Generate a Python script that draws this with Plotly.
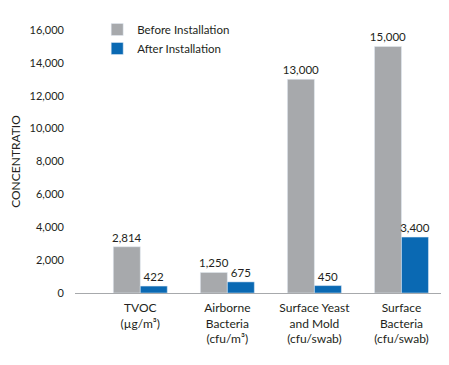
import plotly.graph_objects as go

categories = ["TVOC<br>(µg/m³)", "Airborne<br>Bacteria<br>(cfu/m³)",
              "Surface Yeast<br>and Mold<br>(cfu/swab)", "Surface<br>Bacteria<br>(cfu/swab)"]
before = [2814, 1250, 13000, 15000]
after = [422, 675, 450, 3400]
before_labels = ["2,814", "1,250", "13,000", "15,000"]
after_labels = ["422", "675", "450", "3,400"]
tick_vals = [0, 2000, 4000, 6000, 8000, 10000, 12000, 14000, 16000]
tick_text = ["0", "2,000", "4,000", "6,000", "8,000", "10,000", "12,000", "14,000", "16,000"]

x = list(range(len(categories)))
font = "Lato, Open Sans, sans-serif"
txt = "#231f20"

fig = go.Figure()
fig.add_bar(x=x, y=before, name="Before Installation", marker_color="#a7a9ac",
            text=before_labels, textposition="outside", cliponaxis=False,
            constraintext="none", textfont=dict(size=11.5, color=txt))
fig.add_bar(x=x, y=after, name="After Installation", marker_color="#0a69b3",
            text=after_labels, textposition="outside", cliponaxis=False,
            constraintext="none", textfont=dict(size=11.5, color=txt))

fig.update_layout(
    width=449, height=365,
    margin=dict(l=67, r=12, t=22, b=80, autoexpand=False),
    paper_bgcolor="white", plot_bgcolor="white",
    barmode="group", bargap=0.38, bargroupgap=0,
    font=dict(family=font, size=11, color=txt),
    showlegend=True,
    legend=dict(x=0.06, y=1.057, xanchor="left", yanchor="top",
                font=dict(size=11.5), itemwidth=30, tracegroupgap=0,
                bgcolor="rgba(0,0,0,0)"),
)
fig.update_xaxes(range=[-0.75, 3.5], tickvals=x, ticktext=categories,
                 showline=False, showgrid=False, zeroline=False, ticks="",
                 tickfont=dict(size=12), tickangle=0, automargin=False,
                 ticklabelstandoff=6)
fig.update_yaxes(range=[0, 16000], tickvals=tick_vals, ticktext=tick_text,
                 showgrid=False, zeroline=True, zerolinecolor="#a7a9ac", zerolinewidth=1,
                 showline=False, ticks="", ticklabelstandoff=10, automargin=False,
                 tickfont=dict(size=11),
                 title=dict(text="CONCENTRATIO", font=dict(size=12), standoff=12))

fig.write_html("out.html")
